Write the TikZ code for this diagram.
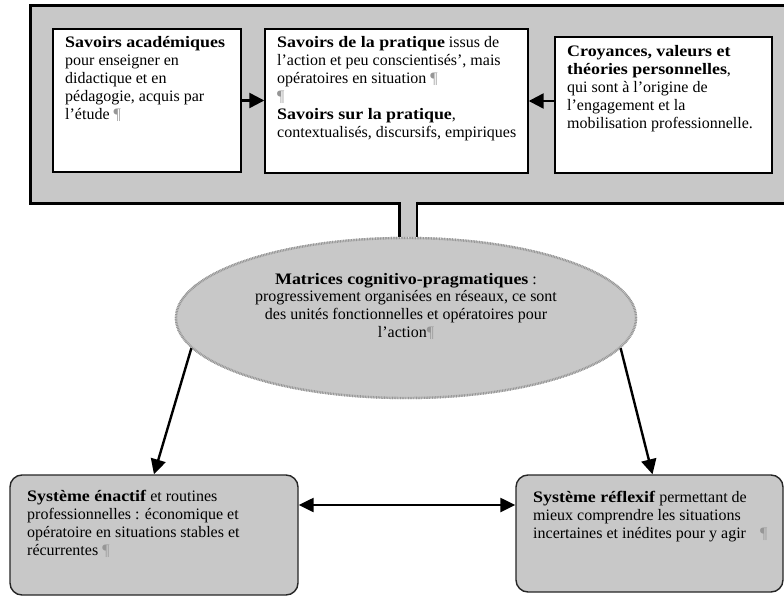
\documentclass[tikz,border=0pt]{standalone}
\usepackage{fontspec}
\setmainfont{Liberation Serif}[BoldFeatures={FakeStretch=1.12}]
\usetikzlibrary{arrows.meta,shapes.geometric,calc}
\definecolor{fillg}{RGB}{200,200,200}
\definecolor{pilc}{RGB}{150,150,150}
\definecolor{hatch}{RGB}{150,150,150}
\newcommand{\pil}{{\color{pilc}¶}}
\begin{document}
\begin{tikzpicture}[x=1pt,y=-1pt,
  bigbox/.style={draw=black, line width=3pt, fill=fillg, inner sep=0pt},
  wbox/.style={draw=black, line width=1.4pt, fill=white, inner sep=0pt},
  gbox/.style={draw=black!85, line width=1.4pt, fill=fillg, rounded corners=12pt, inner sep=0pt},
  ellbox/.style={ellipse, draw=hatch, line width=2.4pt, dash pattern=on 0.8pt off 0.8pt, fill=fillg, inner sep=0pt},
  txt/.style={font=\fontsize{16}{18}\selectfont, align=left, inner sep=0pt, anchor=north west},
  ctxt/.style={font=\fontsize{16}{17.6}\selectfont, align=center, inner sep=0pt, anchor=north},
  arr/.style={line width=2.4pt, -{Triangle[length=15pt,width=15pt]}},
  darr/.style={line width=2.4pt, {Triangle[length=15pt,width=14pt]}-{Triangle[length=15pt,width=14pt]}},
  stem/.style={line width=2.6pt, draw=black, double=fillg, double distance=15pt}
]
\clip (0,0) rectangle (784,602);
\fill[white] (0,0) rectangle (784,602);

% big container
\node[bigbox, minimum width=762pt, minimum height=197pt] (big) at (411,104.5) {};

% inner boxes
\node[wbox, minimum width=188pt, minimum height=143pt] (b1) at (147,100.5) {};
\node[wbox, minimum width=263pt, minimum height=144pt] (b2) at (396.5,101) {};
\node[wbox, minimum width=217pt, minimum height=136pt] (b3) at (663.5,105) {};

\node[txt] (t1) at (65,36) {\textbf{Savoirs académiques}\\pour enseigner en\\didactique et en\\pédagogie, acquis par\\l'étude \pil};
\node[txt] (t2) at (277,36) {\textbf{Savoirs de la pratique} issus de\\l'action et peu conscientisés', mais\\opératoires en situation \pil\\\pil\\\textbf{Savoirs sur la pratique},\\contextualisés, discursifs, empiriques};
\node[txt] (t3) at (567,45) {\textbf{Croyances, valeurs et}\\\textbf{théories personnelles},\\qui sont à l'origine de\\l'engagement et la\\mobilisation professionnelle.};

\draw[arr] (b1.east) -- (b1.east -| b2.west);
\draw[arr] (b3.west |- b2.east) -- (b2.east);

% stem to ellipse
\node[ellbox, minimum width=460pt, minimum height=160pt] (ell) at (406,318) {};
\coordinate (stemtop) at (408,201.5);
\draw[stem] (stemtop) -- (stemtop |- ell.north);
\node[ellbox, minimum width=460pt, minimum height=160pt] (ell2) at (406,318) {};
\node[ctxt] (et) at (406,273) {\textbf{Matrices cognitivo-pragmatiques} :\\progressivement organisées en réseaux, ce sont\\des unités fonctionnelles et opératoires pour\\l'action\pil};

% bottom boxes
\node[gbox, minimum width=288pt, minimum height=120pt] (lb) at (154,535) {};
\node[gbox, minimum width=267pt, minimum height=117pt] (rb) at (649.5,533.5) {};
\node[txt] (lt) at (27,490) {\textbf{Système énactif} et routines\\professionnelles : économique et\\opératoire en situations stables et\\récurrentes \pil};
\node[txt] (rt) at (533,491) {\textbf{Système réflexif} permettant de\\mieux comprendre les situations\\incertaines et inédites pour y agir\hspace{14pt}\pil};

% connectors
\draw[arr] (ell2.188) -- (lb.north);
\draw[arr] (ell2.-8) -- ($(rb.north)+(3,0)$);
\draw[darr] ($(lb.east)+(0,-30)$) coordinate (da) -- (da -| rb.west);
\end{tikzpicture}
\end{document}
